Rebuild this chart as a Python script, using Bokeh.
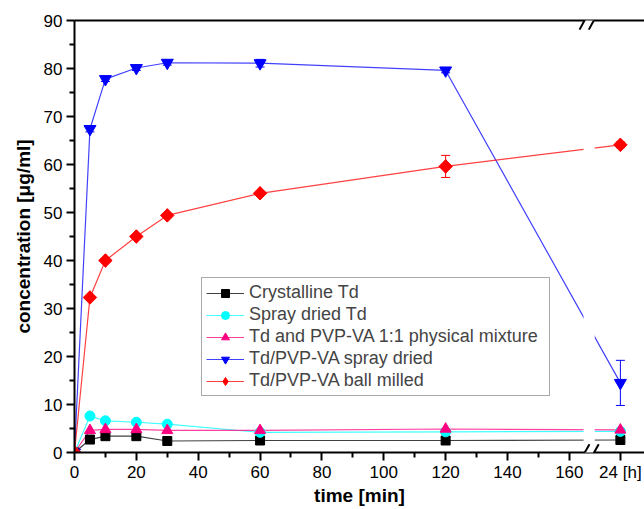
import math
from bokeh.plotting import figure
from bokeh.models import (ColumnDataSource, Range1d, LinearAxis, FixedTicker,
                          Legend, LegendItem, Whisker, TeeHead, Arrow)
from bokeh.embed import file_html
from bokeh.resources import INLINE

# ---- data ----
H24_POS = 176.5          # x position (min scale) where the 24 h point is drawn after the axis break
BREAK_POS = 166.4        # axis break centre
time_min = [0, 5, 10, 20, 30, 60, 120, H24_POS]
x_ticks = [0, 20, 40, 60, 80, 100, 120, 140, 160, H24_POS]
x_minor = [10, 30, 50, 70, 90, 110, 130, 150]
x_tick_labels = {H24_POS: "24 [h]"}

crystalline = [0, 2.7, 3.4, 3.4, 2.4, 2.5, 2.5, 2.6]
spray_td = [0, 7.6, 6.6, 6.3, 5.9, 4.2, 4.3, 4.4]
phys_mix = [0, 4.6, 4.8, 4.8, 4.6, 4.6, 4.9, 4.7]
pvpva_sd = [0, 67.4, 77.8, 80.1, 81.2, 81.1, 79.6, 14.5]
pvpva_sd_err = [0, 0.6, 0.5, 0.5, 0.5, 0.8, 0.5, 4.7]
pvpva_bm = [0, 32.3, 40.0, 45.0, 49.4, 54.0, 59.6, 64.1]
pvpva_bm_err = [0, 0.3, 0.3, 0.3, 0.3, 0.3, 2.3, 0.6]

labels = ["Crystalline Td", "Spray dried Td", "Td and PVP-VA 1:1 physical mixture",
          "Td/PVP-VA spray dried", "Td/PVP-VA ball milled"]
series = [crystalline, spray_td, phys_mix, pvpva_sd, pvpva_bm]
colors = ["#000000", "#00FFFF", "#FF0080", "#0000FF", "#FF0000"]
markers = ["square", "circle", "triangle", "inverted_triangle", "diamond"]
msizes = [9, 10, 11, 12, 13]

FONT = "Liberation Sans"

p = figure(width=644, height=509, output_backend="svg", toolbar_location=None,
           x_range=Range1d(0, 184.3), y_range=Range1d(0, 90),
           min_border_left=74, min_border_right=0, min_border_top=20, min_border_bottom=57)
p.outline_line_color = None
p.xgrid.visible = False
p.ygrid.visible = False
p.background_fill_color = "white"

# lines
line_rs = []
for ys, c in zip(series, colors):
    line_rs.append(p.line(time_min, ys, line_color=c, line_width=1.2, line_alpha=0.75))

# white band where the axis break cuts the lines
p.quad(left=[164.6], right=[168.2], bottom=[0.35], top=[89.65], fill_color="white", line_color=None)

# error bars
for ys, err, c in [(pvpva_sd, pvpva_sd_err, colors[3]), (pvpva_bm, pvpva_bm_err, colors[4])]:
    src = ColumnDataSource(dict(x=time_min, lo=[y - e for y, e in zip(ys, err)],
                                hi=[y + e for y, e in zip(ys, err)]))
    w = Whisker(base="x", lower="lo", upper="hi", source=src, dimension="height",
                line_color=c, line_width=1,
                upper_head=TeeHead(size=9, line_color=c, line_width=1),
                lower_head=TeeHead(size=9, line_color=c, line_width=1))
    p.add_layout(w)

# markers
scat_rs = []
for ys, c, m, s in zip(series, colors, markers, msizes):
    scat_rs.append(p.scatter(time_min, ys, marker=m, size=s, fill_color=c, line_color=c))
# ball-milled points: the diamond drawn as a square turned by 45 degrees (covers the legend diamond)
p.scatter(time_min, pvpva_bm, marker="square", size=9.5, angle=math.pi / 4,
          fill_color=colors[4], line_color=colors[4])

# axes
xa = p.xaxis[0]
xa.ticker = FixedTicker(ticks=x_ticks, minor_ticks=x_minor)
xa.major_label_overrides = x_tick_labels
xa.axis_label = "time [min]"
ya = p.yaxis[0]
ya.ticker = FixedTicker(ticks=list(range(0, 91, 10)), minor_ticks=list(range(5, 90, 10)))
ya.axis_label = "concentration [\u03bcg/ml]"
for ax in (xa, ya):
    ax.axis_line_width = 2
    ax.major_tick_line_width = 2
    ax.minor_tick_line_width = 2
    ax.major_tick_out = 8
    ax.major_tick_in = 0
    ax.minor_tick_out = 5
    ax.minor_tick_in = 0
    ax.major_label_text_font = FONT
    ax.major_label_text_font_size = "17px"
    ax.major_label_text_color = "black"
    ax.axis_label_text_font = FONT
    ax.axis_label_text_font_size = "19px"
    ax.axis_label_text_font_style = "bold"
    ax.axis_label_text_color = "black"
xa.major_label_standoff = 2
xa.axis_label_standoff = 0
ya.major_label_standoff = 4
ya.axis_label_standoff = 7

top = LinearAxis(ticker=FixedTicker(ticks=[]), axis_line_width=2,
                 major_tick_line_color=None, minor_tick_line_color=None)
p.add_layout(top, "above")

# axis break marks
for yb in (0, 90):
    p.add_layout(Arrow(start=None, end=None, x_start=165.0, y_start=yb, x_end=167.8, y_end=yb,
                       line_color="white", line_width=7))
for dx in (-1.5, 1.5):
    for (y0, y1) in ((-1.9, 1.7), (88.1, 91.9)):
        p.add_layout(Arrow(start=None, end=None,
                           x_start=BREAK_POS + dx - 1.6, y_start=y0,
                           x_end=BREAK_POS + dx + 1.6, y_end=y1,
                           line_color="black", line_width=2))

legend = Legend(items=[LegendItem(label=l, renderers=[lr, sr])
                       for l, lr, sr in zip(labels, line_rs, scat_rs)],
                location=(127, 56), padding=4, spacing=1, label_height=20, glyph_height=20,
                glyph_width=38, label_standoff=5, margin=0, label_width=296,
                label_text_font=FONT, label_text_font_size="18px",
                border_line_color="#555555", border_line_width=1,
                background_fill_alpha=1)
p.add_layout(legend, "center")

open("out.html", "w").write(file_html(p, INLINE))
